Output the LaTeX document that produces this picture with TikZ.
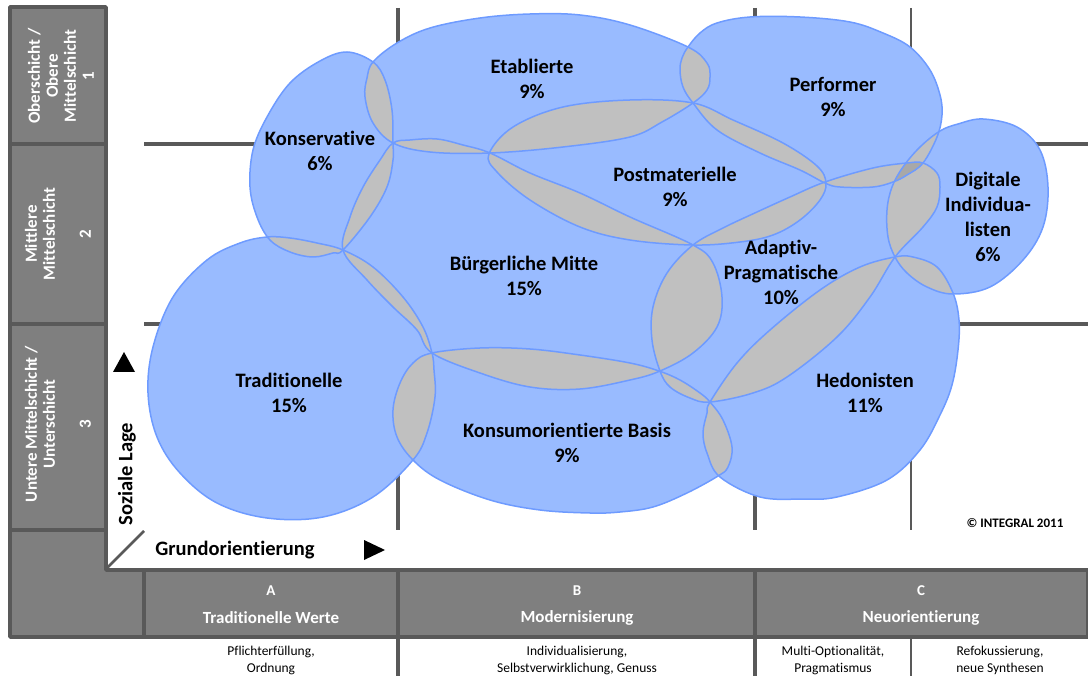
\documentclass[tikz,border=0pt]{standalone}
\usepackage{fontspec}
\setmainfont{Carlito}[Ligatures=NoCommon]
\definecolor{blobfill}{HTML}{99BBFF}
\definecolor{edgeblue}{HTML}{6E9BFF}
\definecolor{ovgray}{HTML}{C0C0C0}
\definecolor{ovdark}{HTML}{A8A8A8}
\definecolor{gridgray}{HTML}{595959}
\definecolor{boxgray}{HTML}{7F7F7F}
\def\shK{plot[smooth cycle,tension=0.6] coordinates {(373,62) (385,80) (392,110) (393,143) (393,160) (387,187) (370,217) (343,250) (333,253) (313,257) (290,252) (270,240) (257,217) (250,187) (253,150) (267,117) (290,83) (320,61) (347,52)}}
\def\shE{plot[smooth cycle,tension=0.6] coordinates {(373,62) (397,43) (430,28) (480,18) (530,14) (580,15) (630,25) (688,47) (707,63) (710,77) (707,90) (693,103) (662,122) (630,137) (563,147) (490,153) (430,152) (393,143) (373,123) (365,97) (367,78)}}
\def\shP{plot[smooth cycle,tension=0.6] coordinates {(688,47) (700,33) (717,23) (750,17) (800,17) (850,22) (883,33) (910,47) (930,70) (940,95) (942,115) (937,137) (923,163) (907,175) (893,182) (873,187) (840,187) (825,183) (800,170) (760,153) (717,130) (693,103) (683,87) (680,70) (682,58)}}
\def\shM{plot[smooth cycle,tension=0.6] coordinates {(489,154) (513,127) (563,107) (630,100) (693,103) (733,120) (783,143) (817,166) (826,183) (820,200) (800,220) (773,235) (740,242) (693,245) (630,240) (580,227) (530,200) (497,172)}}
\def\shD{plot[smooth cycle,tension=0.6] coordinates {(940,131) (958,124) (983,119) (1017,127) (1040,150) (1048,187) (1043,227) (1023,260) (990,287) (953,294) (927,287) (907,273) (895,257) (888,237) (887,210) (892,187) (903,167) (920,147)}}
\def\shB{plot[smooth cycle,tension=0.6] coordinates {(393,143) (410,140) (437,139) (463,145) (490,153) (530,173) (580,193) (630,217) (693,245) (713,263) (722,297) (717,327) (693,353) (660,371) (630,380) (580,389) (530,387) (480,373) (432,353) (417,330) (393,307) (367,280) (343,250) (350,217) (363,187) (380,160)}}
\def\shA{plot[smooth cycle,tension=0.6] coordinates {(693,245) (723,228) (757,212) (790,197) (825,182) (873,168) (907,163) (923,163) (937,173) (940,187) (937,207) (923,227) (895,257) (870,297) (837,337) (787,377) (753,393) (710,402) (690,398) (670,387) (660,371) (652,340) (653,307) (667,273)}}
\def\shT{plot[smooth cycle,tension=0.6] coordinates {(267,237) (290,238) (317,243) (343,250) (373,267) (403,297) (423,327) (432,353) (434,370) (435,397) (427,433) (413,460) (373,497) (323,517) (267,518) (217,503) (180,473) (157,437) (148,393) (153,347) (173,297) (207,260) (240,243)}}
\def\shC{plot[smooth cycle,tension=0.6] coordinates {(432,353) (480,348) (530,349) (580,355) (630,363) (659,371) (680,380) (700,393) (710,402) (723,420) (732,447) (728,467) (718,476) (687,493) (653,507) (620,512) (590,513) (540,510) (490,500) (440,480) (413,460) (397,437) (393,410) (400,383) (413,363)}}
\def\shH{plot[smooth cycle,tension=0.6] coordinates {(710,402) (737,363) (770,330) (820,290) (860,267) (895,257) (913,257) (937,267) (953,293) (959,320) (958,350) (952,385) (940,415) (920,450) (887,480) (837,497) (803,499) (760,497) (720,477) (707,453) (703,433) (707,413)}}
\newcommand\ovlap[2]{\begin{scope}\clip #1; \fill[ovgray] #2;\end{scope}}
\begin{document}
\begin{tikzpicture}[x=1pt,y=-1pt,
  edge/.style={draw=edgeblue,line width=1.5pt},
  gridline/.style={draw=gridgray,line width=4pt},
  thingrid/.style={draw=gridgray,line width=2.2pt},
  lbl/.style={font=\fontsize{20.5pt}{25pt}\selectfont\bfseries,align=center,inner sep=0pt},
  sidelbl/.style={font=\fontsize{17pt}{18pt}\selectfont\bfseries,align=center,text=white,rotate=90,inner sep=0pt},
  barletter/.style={font=\fontsize{15pt}{18pt}\selectfont\bfseries,text=white,inner sep=0pt},
  bartitle/.style={font=\fontsize{17pt}{20pt}\selectfont\bfseries,text=white,inner sep=0pt},
  subtxt/.style={font=\fontsize{13.5pt}{17pt}\selectfont,align=center,inner sep=0pt},
  axislbl/.style={font=\fontsize{20.5pt}{24pt}\selectfont\bfseries,inner sep=0pt}]
\useasboundingbox (0,0) rectangle (1088,676);
% grid
\draw[gridline] (144,144) -- (1088,144);
\draw[gridline] (144,324) -- (1088,324);
\draw[gridline] (398,8) -- (398,530);
\draw[gridline] (755,8) -- (755,530);
\draw[thingrid] (911,8) -- (911,530);
% left column and bottom bar
\filldraw[fill=boxgray,draw=gridgray,line width=3.5pt,line join=round] (10,7) -- (106,7) -- (106,570) -- (1088,570) -- (1088,637) -- (10,637) -- cycle;
\draw[gridgray,line width=3.5pt] (10,144) -- (106,144);
\draw[gridgray,line width=3.5pt] (10,324) -- (106,324);
\draw[gridgray,line width=3.5pt] (10,530) -- (106,530);
\draw[gridgray,line width=3.5pt] (144,570) -- (144,637);
\draw[gridgray,line width=3.5pt] (398,570) -- (398,676);
\draw[gridgray,line width=3.5pt] (755,570) -- (755,676);
\draw[gridgray,line width=2.2pt] (911,637) -- (911,676);
\draw[gridgray,line width=2.5pt] (106,569) -- (144,531);
% blobs
\foreach \s in {\shK,\shE,\shP,\shM,\shD,\shB,\shA,\shT,\shC,\shH} {\fill[blobfill] \s;}
\ovlap{\shK}{\shE}
\ovlap{\shK}{\shB}
\ovlap{\shK}{\shT}
\ovlap{\shE}{\shB}
\ovlap{\shE}{\shM}
\ovlap{\shE}{\shP}
\ovlap{\shM}{\shB}
\ovlap{\shM}{\shP}
\ovlap{\shM}{\shA}
\ovlap{\shP}{\shA}
\ovlap{\shP}{\shD}
\ovlap{\shA}{\shD}
\ovlap{\shA}{\shB}
\ovlap{\shA}{\shC}
\ovlap{\shA}{\shH}
\ovlap{\shD}{\shH}
\ovlap{\shB}{\shC}
\ovlap{\shB}{\shT}
\ovlap{\shT}{\shC}
\ovlap{\shC}{\shH}
\begin{scope}\clip \shP; \clip \shA; \fill[ovdark] \shD;\end{scope}
\foreach \s in {\shK,\shE,\shP,\shM,\shD,\shB,\shA,\shT,\shC,\shH} {\draw[edge] \s;}
% labels
\node[lbl] (etab) at (532,79) {Etablierte\\9\%};
\node[lbl] (perf) at (833,97) {Performer\\9\%};
\node[lbl] (kons) at (320,151) {Konservative\\6\%};
\node[lbl] (post) at (675,187) {Postmaterielle\\9\%};
\node[lbl] (digi) at (988,217) {Digitale\\Individua-\\listen\\6\%};
\node[lbl] (bmit) at (524,276) {Bürgerliche Mitte\\15\%};
\node[lbl] (adap) at (781,272) {Adaptiv-\\Pragmatische\\10\%};
\node[lbl] (trad) at (289,393) {Traditionelle\\15\%};
\node[lbl] (hedo) at (865,393) {Hedonisten\\11\%};
\node[lbl] (konb) at (567,443) {Konsumorientierte Basis\\9\%};
% side labels
\node[sidelbl] (s1) at (61,76) {Oberschicht /\\Obere\\Mittelschicht\\1};
\node[sidelbl] (s2) at (58,234) {Mittlere\\Mittelschicht\\\\2};
\node[sidelbl] (s3) at (58,424) {Untere Mittelschicht /\\Unterschicht\\\\3};
% axes
\node[axislbl,rotate=90] (soz) at (127,474) {Soziale Lage};
\node[axislbl] (grund) at (235,550) {Grundorientierung};
\fill (113,372) -- (135,372) -- (124,352) -- cycle;
\fill (364,540) -- (364,560) -- (385,550) -- cycle;
\node[font=\fontsize{13pt}{15pt}\selectfont\bfseries,inner sep=0pt] (copy) at (1015,523) {© INTEGRAL 2011};
% bottom bar
\node[barletter] (la) at (271,591) {A};
\node[bartitle] (ta) at (271,618) {Traditionelle Werte};
\node[barletter] (lb) at (577,591) {B};
\node[bartitle] (tb) at (577,618) {Modernisierung};
\node[barletter] (lc) at (921,591) {C};
\node[bartitle] (tc) at (921,618) {Neuorientierung};
\node[subtxt] (sa) at (271,660) {Pflichterfüllung,\\Ordnung};
\node[subtxt] (sb) at (577,660) {Individualisierung,\\Selbstverwirklichung, Genuss};
\node[subtxt] (sc1) at (833,660) {Multi-Optionalität,\\Pragmatismus};
\node[subtxt] (sc2) at (1000,660) {Refokussierung,\\neue Synthesen};
\end{tikzpicture}
\end{document}
